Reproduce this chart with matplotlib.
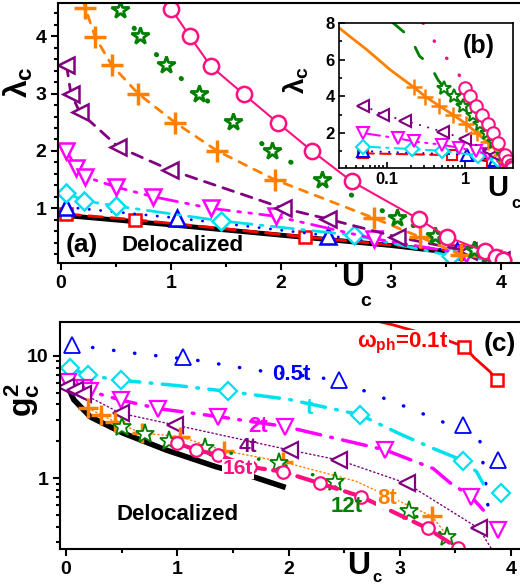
import matplotlib
matplotlib.use('Agg')
import matplotlib.pyplot as plt
from matplotlib.ticker import MultipleLocator, LogLocator, NullFormatter, FixedLocator, FixedFormatter

plt.rcParams['font.family'] = ['Liberation Sans', 'DejaVu Sans']
plt.rcParams['font.weight'] = 'bold'
plt.rcParams['mathtext.fontset'] = 'custom'
plt.rcParams['mathtext.rm'] = 'Liberation Sans:bold'
plt.rcParams['mathtext.it'] = 'Liberation Sans:bold'
plt.rcParams['mathtext.bf'] = 'Liberation Sans:bold'
plt.rcParams['axes.linewidth'] = 1.5
plt.rcParams['lines.dash_capstyle'] = 'round'

# ---------------- panel (a) / (b): lambda_c vs U_c ----------------
u_0 = [0, 1, 2, 3, 3.5, 4.0]
l_0 = [0.88, 0.71, 0.53, 0.35, 0.24, 0.1]

u_01 = [0.05, 0.67, 2.22, 3.6, 4.0]
l_01 = [0.9, 0.8, 0.5, 0.25, 0.1]

u_05 = [0.05, 1.05, 2.43, 3.6, 4.0]
l_05 = [1.02, 0.83, 0.52, 0.25, 0.1]

u_1 = [0.05, 0.21, 0.5, 1.45, 2.66, 3.54, 4.0]
l_1 = [1.27, 1.13, 1.04, 0.78, 0.53, 0.17, 0.08]

u_2 = [0.05, 0.14, 0.22, 0.5, 0.84, 1.36, 1.95, 2.84, 3.68, 3.95]
l_2 = [2.0, 1.71, 1.55, 1.37, 1.2, 1.0, 0.86, 0.47, 0.2, 0.1]

u_4 = [0.05, 0.09, 0.17, 0.52, 0.99, 2.02, 2.43, 3.05, 3.7, 4.0]
l_4 = [3.5, 3.0, 2.68, 2.07, 1.67, 1.0, 0.81, 0.5, 0.25, 0.1]

u_8 = [0.22, 0.31, 0.46, 0.7, 1.04, 1.42, 1.94, 2.84, 3.26, 3.63, 4.0]
l_8 = [4.5, 3.99, 3.5, 3.0, 2.49, 2.0, 1.5, 0.83, 0.5, 0.19, 0.1]
u_8_ext = [0.025, 0.035, 0.055, 0.11]
l_8_ext = [7.7, 7.2, 6.55, 5.45]

u_12 = [0.54, 0.72, 0.95, 1.25, 1.56, 1.92, 2.37, 3.05, 3.4, 3.75, 3.87, 3.97]
l_12 = [4.46, 4.0, 3.5, 3.0, 2.51, 1.99, 1.49, 0.83, 0.52, 0.27, 0.17, 0.12]
u_12_ext = [0.12, 0.2, 0.26, 0.35, 0.45]
l_12_ext = [8.0, 7.2, 6.2, 5.75, 4.9]

u_16 = [1.0, 1.17, 1.36, 1.66, 1.97, 2.28, 2.64, 3.25, 3.51, 3.85, 3.95, 4.02]
l_16 = [4.48, 4.0, 3.48, 2.99, 2.49, 2.0, 1.47, 0.81, 0.5, 0.25, 0.15, 0.1]
u_16_ext = [0.29, 0.39, 0.55, 0.79]
l_16_ext = [8.0, 7.1, 6.2, 5.4]

# ---------------- panel (c): g^2_c vs U_c ----------------
cu_0 = [0.005, 0.02, 0.07, 0.22, 0.51, 0.9, 1.35, 1.68, 1.95]
cg_0 = [6.3, 5.5, 4.37, 3.16, 2.34, 1.70, 1.24, 1.03, 0.855]

cu_01 = [3.58, 3.87]
cg_01 = [11.8, 6.3]
cu_01_line = [2.7, 2.94, 3.42, 3.58, 3.67, 3.81, 3.87]
cg_01_line = [20.0, 17.8, 13.4, 11.8, 9.6, 7.4, 6.3]

cu_05 = [0.05, 1.05, 2.45, 3.57, 3.88]
cg_05 = [12.2, 9.8, 6.3, 2.72, 1.41]
cu_05_line = [0.05, 0.6, 1.2, 1.7, 2.3, 2.7, 3.0, 3.3, 3.55, 3.72, 3.77, 3.8]
cg_05_line = [12.3, 10.5, 9.1, 7.6, 6.6, 5.1, 4.0, 3.1, 2.5, 2.0, 0.95, 0.5]

cu_1 = [0.04, 0.2, 0.49, 1.46, 2.64, 3.57, 3.91]
cg_1 = [7.9, 6.9, 6.3, 5.1, 3.3, 1.39, 0.76]
cu_1_line = [0.04, 0.2, 0.49, 1.0, 1.46, 2.0, 2.64, 3.0, 3.3, 3.57, 3.69, 3.75]
cg_1_line = [7.9, 6.9, 6.3, 5.7, 5.1, 4.4, 3.3, 2.3, 1.75, 1.39, 1.13, 0.9]

cu_2 = [0.02, 0.16, 0.22, 0.49, 0.83, 1.37, 1.97, 2.87, 3.64, 3.88]
cg_2 = [6.1, 5.4, 5.1, 4.35, 3.7, 3.18, 2.64, 1.70, 0.71, 0.38]
cu_2_line = [0.02, 0.16, 0.22, 0.49, 0.83, 1.37, 1.97, 2.87, 3.3, 3.45, 3.64, 3.75]
cg_2_line = [6.1, 5.4, 5.1, 4.35, 3.7, 3.18, 2.64, 1.70, 1.2, 0.92, 0.71, 0.55]

cu_4 = [0.0, 0.08, 0.15, 0.49, 0.98, 2.01, 2.45, 3.06, 3.71]
cg_4 = [5.6, 5.25, 4.9, 3.39, 2.72, 1.70, 1.41, 0.91, 0.39]
cu_4_line = [0.0, 0.08, 0.15, 0.49, 0.98, 2.01, 2.45, 3.06, 3.71, 3.83]
cg_4_line = [5.6, 5.25, 4.9, 3.39, 2.72, 1.70, 1.41, 0.91, 0.39, 0.26]

cu_8 = [0.2, 0.31, 0.44, 0.68, 1.02, 1.42, 1.95, 3.29]
cg_8 = [3.72, 3.31, 2.88, 2.34, 2.19, 1.68, 1.36, 0.49]
cu_8_line = [0.2, 0.31, 0.44, 0.68, 1.02, 1.42, 1.95, 2.6, 3.29, 3.54]
cg_8_line = [3.72, 3.31, 2.88, 2.34, 2.19, 1.68, 1.36, 0.95, 0.49, 0.25]

cu_12 = [0.5, 0.71, 0.93, 1.25, 1.91, 2.42, 3.08, 3.42]
cg_12 = [2.6, 2.29, 2.0, 1.78, 1.32, 0.93, 0.54, 0.33]

cu_16 = [1.0, 1.17, 1.37, 1.65, 1.95, 2.28, 2.65, 3.25, 3.52]
cg_16 = [1.93, 1.70, 1.55, 1.24, 1.13, 0.91, 0.71, 0.39, 0.27]
cu_16_line = [1.0, 1.17, 1.37, 1.65, 1.95, 2.28, 2.65, 3.25, 3.52, 3.6]
cg_16_line = [1.93, 1.70, 1.55, 1.24, 1.13, 0.91, 0.71, 0.39, 0.27, 0.22]

RED, BLUE, CYAN, MAG = '#ff0000', '#0000ff', '#00e0ee', '#ff00ff'
PUR, ORA, GRN, PNK = '#800080', '#ff8000', '#007f00', '#ff1080'

W, H = 520, 588
fig = plt.figure(figsize=(W / 100, H / 100), dpi=100)


def box(l, t, r, b):
    return [l / W, 1 - b / H, (r - l) / W, (b - t) / H]


def ftxt(x, y, s, **kw):
    kw.setdefault('ha', 'center')
    kw.setdefault('va', 'center')
    return fig.text(x / W, 1 - y / H, s, **kw)


def series(ax, u, v, color, ls, lw, marker=None, ms=10, mew=1.8, lu=None, lv=None):
    ax.plot(u if lu is None else lu, v if lv is None else lv, color=color, ls=ls, lw=lw)
    if marker:
        ax.plot(u, v, ls='none', marker=marker, ms=ms, mew=mew, mec=color,
                mfc='white', color=color)


ax_a = fig.add_axes(box(58, 3, 520, 263))
ax_c = fig.add_axes(box(60, 322, 520, 549))
ax_b = fig.add_axes(box(339, 23, 513, 168))

# ---- (a)
ax = ax_a
series(ax, u_0, l_0, 'black', '-', 3.5)
series(ax, u_01, l_01, RED, (0, (5, 3)), 2, 's', 9)
series(ax, u_05, l_05, BLUE, (0, (0.1, 4)), 2, '^', 11)
series(ax, u_1, l_1, CYAN, (0, (8, 3, 1, 3)), 2, 'D', 9)
series(ax, u_2, l_2, MAG, (0, (8, 3, 1, 3, 1, 3)), 2, 'v', 11)
series(ax, u_4, l_4, PUR, (0, (4, 3)), 2, '<', 11)
series(ax, u_8, l_8, ORA, (0, (3, 3)), 2, '+', 16, 2.5, u_8_ext + u_8, l_8_ext + l_8)
series(ax, u_12, l_12, GRN, (0, (0.1, 7)), 3.5, '*', 13, 2, u_12_ext + u_12, l_12_ext + l_12)
series(ax, u_16, l_16, PNK, '-', 1.5, 'o', 11, 1.8, u_16_ext + u_16, l_16_ext + l_16)
ax.set_xlim(-0.027, 4.17)
ax.set_ylim(0.045, 4.58)
ax.xaxis.set_major_locator(MultipleLocator(1))
ax.xaxis.set_minor_locator(MultipleLocator(0.5))
ax.yaxis.set_major_locator(MultipleLocator(1))
ax.yaxis.set_minor_locator(MultipleLocator(0.2))
ax.spines['right'].set_visible(False)
ax.tick_params(which='both', direction='out', width=1.5, labelsize=14)
ax.tick_params(which='major', length=5)
ax.tick_params(which='minor', length=3)

# ---- (b) inset
ax = ax_b
series(ax, u_0[1:], l_0[1:], 'black', '-', 3)
series(ax, u_01, l_01, RED, (0, (5, 3)), 1.5, 's', 7, 1.5)
series(ax, u_05, l_05, BLUE, (0, (0.1, 4)), 1.5, '^', 8, 1.5)
series(ax, u_1, l_1, CYAN, (0, (8, 3, 1, 3)), 1.5, 'D', 7, 1.5)
series(ax, u_2, l_2, MAG, (0, (8, 3, 1, 3, 1, 3)), 1.5, 'v', 9, 1.5)
series(ax, u_4, l_4, PUR, (0, (0.1, 4)), 1.5, '<', 9, 1.5)
series(ax, u_8, l_8, ORA, '-', 2, '+', 11, 1.8, u_8_ext + u_8, l_8_ext + l_8)
series(ax, u_12, l_12, GRN, (0, (5, 7)), 2, '*', 10, 1.5, u_12_ext + u_12, l_12_ext + l_12)
series(ax, u_16, l_16, PNK, (0, (0.1, 6)), 2.5, 'o', 9, 1.5, u_16_ext + u_16, l_16_ext + l_16)
ax.set_xscale('log')
ax.set_xlim(0.0243, 4.1)
ax.set_ylim(0.1, 8)
ax.xaxis.set_major_locator(FixedLocator([0.1, 1]))
ax.xaxis.set_major_formatter(FixedFormatter(['0.1', '1']))
ax.xaxis.set_minor_locator(LogLocator(base=10, subs=range(2, 10)))
ax.xaxis.set_minor_formatter(NullFormatter())
ax.yaxis.set_major_locator(MultipleLocator(2))
ax.yaxis.set_minor_locator(MultipleLocator(1))
ax.tick_params(which='both', direction='in', width=1.2, labelsize=12, pad=3)
ax.tick_params(which='major', length=4)
ax.tick_params(which='minor', length=2)
for s in ax.spines.values():
    s.set_linewidth(1.2)

# ---- (c)
ax = ax_c
series(ax, cu_0, cg_0, 'black', '-', 4)
series(ax, cu_01, cg_01, RED, '-', 2, 's', 9, 1.8, cu_01_line, cg_01_line)
series(ax, cu_05, cg_05, BLUE, (0, (0.1, 6)), 2.5, '^', 11, 1.3, cu_05_line, cg_05_line)
series(ax, cu_1, cg_1, CYAN, (0, (7, 3, 0.5, 3)), 2.5, 'D', 9, 1.6, cu_1_line, cg_1_line)
series(ax, cu_2, cg_2, MAG, (0, (7, 3, 0.5, 3)), 2.5, 'v', 11, 1.6, cu_2_line, cg_2_line)
series(ax, cu_4, cg_4, PUR, (0, (1, 2)), 1, '<', 11, 1.6, cu_4_line, cg_4_line)
series(ax, cu_8, cg_8, ORA, (0, (1, 2)), 1, '+', 14, 2.5, cu_8_line, cg_8_line)
series(ax, cu_12, cg_12, GRN, (0, (0.1, 8)), 2.5, '*', 14, 1.3)
series(ax, cu_16, cg_16, PNK, (0, (4, 2)), 3, 'o', 9, 1.6, cu_16_line, cg_16_line)
ax.set_yscale('log')
ax.set_xlim(-0.054, 4.08)
ax.set_ylim(0.265, 18.8)
ax.xaxis.set_major_locator(MultipleLocator(1))
ax.xaxis.set_minor_locator(MultipleLocator(0.5))
ax.yaxis.set_major_locator(FixedLocator([1, 10]))
ax.yaxis.set_major_formatter(FixedFormatter(['1', '10']))
ax.yaxis.set_minor_locator(LogLocator(base=10, subs=range(2, 10)))
ax.yaxis.set_minor_formatter(NullFormatter())
ax.spines['right'].set_visible(False)
ax.tick_params(which='both', direction='out', width=1.5, labelsize=14)
ax.tick_params(which='major', length=5)
ax.tick_params(which='minor', length=3)

# ---- texts
ftxt(82, 245, '(a)', fontsize=19)
ftxt(183, 245, 'Delocalized', fontsize=16)
ftxt(479, 46, '(b)', fontsize=18)
ftxt(18, 82, r'$\lambda_{c}$', fontsize=23, rotation=90)
ftxt(296, 80, r'$\lambda_{c}$', fontsize=20, rotation=90)
ftxt(353, 278, 'U', fontsize=23)
ftxt(366, 301, 'c', fontsize=14)
ftxt(498, 188, 'U', fontsize=21)
ftxt(516, 203, 'c', fontsize=12)
ftxt(359, 566, 'U', fontsize=23)
ftxt(377, 577, 'c', fontsize=12)
ftxt(22, 400, r'$g^{2}_{c}$', fontsize=23, rotation=90)

wbox = dict(facecolor='white', edgecolor='none', pad=0.5)
ftxt(403, 343, r'$\omega_{ph}$=0.1t', fontsize=16, color=RED, bbox=wbox)
ftxt(500, 344, '(c)', fontsize=19)
ftxt(291, 374, '0.5t', fontsize=16, color=BLUE)
ftxt(309, 408, 't', fontsize=16, color=CYAN)
ftxt(258, 427, '2t', fontsize=16, color=MAG)
ftxt(248, 446, '4t', fontsize=15, color=PUR)
ftxt(238, 469, '16t', fontsize=15, color=PNK, bbox=wbox)
ftxt(387, 498, '8t', fontsize=16, color=ORA, bbox=wbox)
ftxt(347, 507, '12t', fontsize=16, color=GRN)
ftxt(178, 515, 'Delocalized', fontsize=16)

fig.savefig('out.png', dpi=100)
